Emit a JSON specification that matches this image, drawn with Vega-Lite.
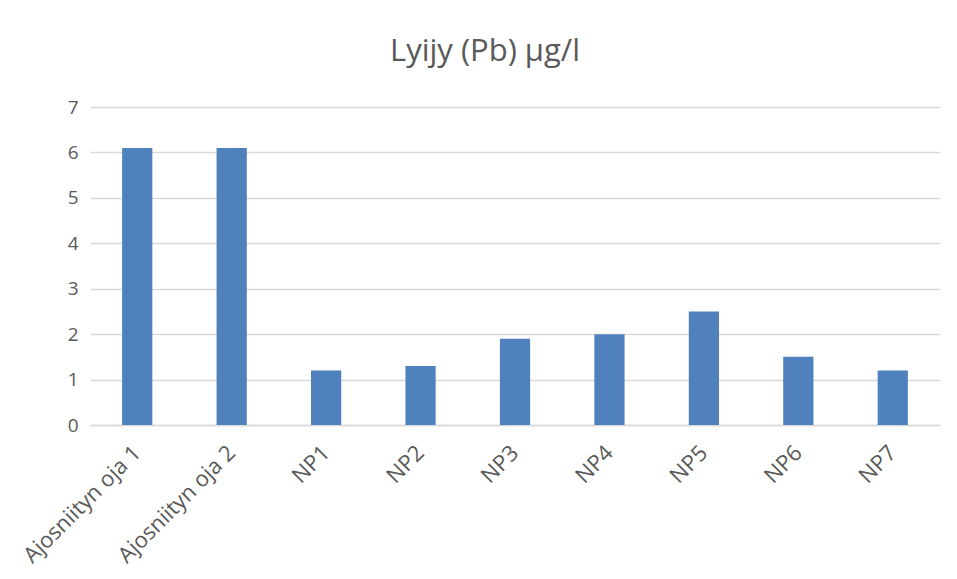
{
  "$schema": "https://vega.github.io/schema/vega-lite/v6.json",
  "width": 850,
  "height": 318,
  "autosize": "none",
  "padding": {"left": 90, "top": 107, "right": 17, "bottom": 154},
  "background": "white",
  "title": {
    "text": "Lyijy (Pb) µg/l",
    "fontSize": 31,
    "font": "Open Sans",
    "fontWeight": "normal",
    "color": "#595959",
    "anchor": "middle",
    "dx": -30,
    "offset": 30
  },
  "data": {
    "values": [
      {"site": "Ajosniityn oja 1", "value": 6.1},
      {"site": "Ajosniityn oja 2", "value": 6.1},
      {"site": "NP1", "value": 1.2},
      {"site": "NP2", "value": 1.3},
      {"site": "NP3", "value": 1.9},
      {"site": "NP4", "value": 2.0},
      {"site": "NP5", "value": 2.5},
      {"site": "NP6", "value": 1.5},
      {"site": "NP7", "value": 1.2}
    ]
  },
  "mark": {"type": "bar", "color": "#4f81bd"},
  "encoding": {
    "x": {
      "field": "site",
      "type": "nominal",
      "sort": null,
      "scale": {"paddingInner": 0.68, "paddingOuter": 0.34},
      "axis": {
        "title": null,
        "labelAngle": -45,
        "labelAlign": "right",
        "labelBaseline": "middle",
        "labelFontSize": 22,
        "labelFont": "Open Sans",
        "labelColor": "#595959",
        "labelPadding": 24,
        "labelOverlap": false,
        "ticks": false,
        "domain": true,
        "domainColor": "#d9d9d9",
        "domainWidth": 1.5
      }
    },
    "y": {
      "field": "value",
      "type": "quantitative",
      "scale": {"domain": [0, 7], "nice": false},
      "axis": {
        "title": null,
        "values": [0, 1, 2, 3, 4, 5, 6, 7],
        "labelOverlap": false,
        "labelFontSize": 19,
        "labelFont": "Open Sans",
        "labelColor": "#595959",
        "labelPadding": 12,
        "ticks": false,
        "domain": false,
        "gridColor": "#d9d9d9",
        "gridWidth": 1.5
      }
    }
  },
  "config": {"view": {"stroke": null}}
}
